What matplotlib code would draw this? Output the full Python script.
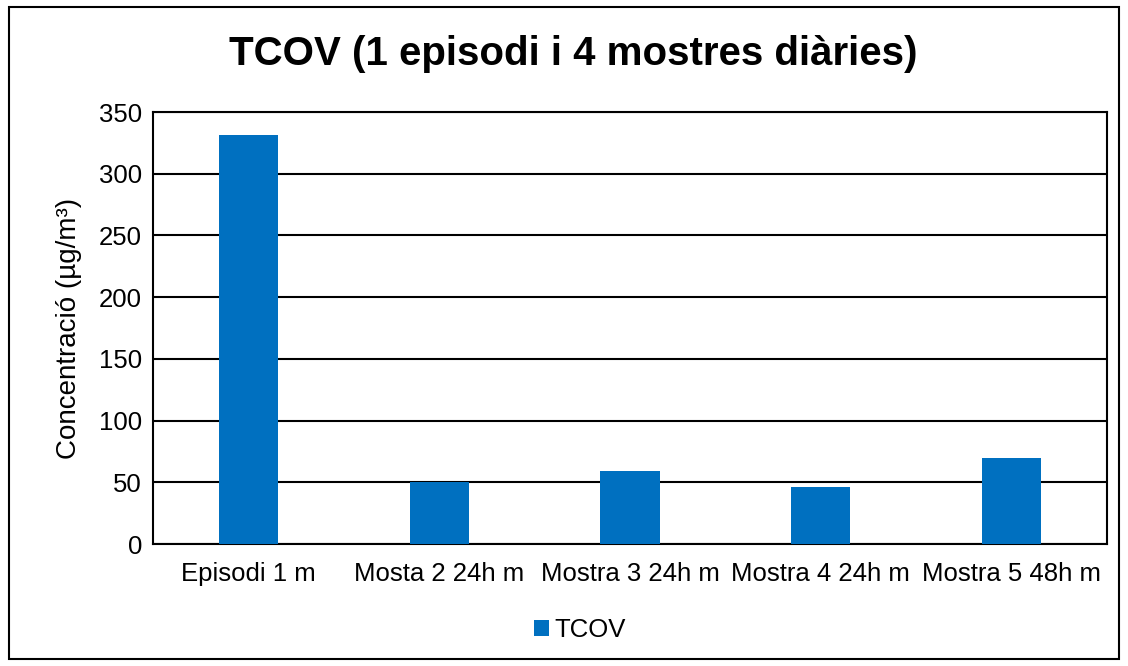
import numpy as np
import matplotlib.pyplot as plt
from matplotlib.patches import Rectangle

plt.rcParams['font.family'] = ['Liberation Sans', 'DejaVu Sans']

categories = ['Episodi 1 m', 'Mosta 2 24h m', 'Mostra 3 24h m', 'Mostra 4 24h m', 'Mostra 5 48h m']
tcov = [331, 50, 59, 46, 70]
yticks = [0, 50, 100, 150, 200, 250, 300, 350]

fig = plt.figure(figsize=(11.28, 6.66), dpi=100)
ax = fig.add_axes([153/1128, 1 - 544/666, (1107-153)/1128, (544-112)/666])

x = np.arange(len(categories))
ax.bar(x, tcov, width=0.31, color='#0070C0', label='TCOV', zorder=3)

ax.set_xlim(-0.5, len(categories) - 0.5)
ax.set_ylim(0, 350)
ax.set_yticks(yticks)
ax.set_xticks(x)
ax.set_xticklabels(categories, fontsize=18.5)
ax.tick_params(axis='y', labelsize=18.5, length=0, pad=8)
ax.tick_params(axis='x', length=0, pad=13)
ax.yaxis.grid(True, color='black', linewidth=1.5, zorder=0)
for s in ax.spines.values():
    s.set_linewidth(1.5)
    s.set_color('black')

ax.set_ylabel('Concentració (µg/m³)', fontsize=20, labelpad=12)
fig.text(573/1128, 1 - 54/666, 'TCOV (1 episodi i 4 mostres diàries)',
         ha='center', va='center', fontsize=29, fontweight='bold')

fig.legend(loc='center', bbox_to_anchor=(580/1128, 1 - 630/666), frameon=False,
           fontsize=18.5, handlelength=0.6, handleheight=0.6, handletextpad=0.2)

fig.patches.append(Rectangle((9/1128, 1 - 659/666), 1110/1128, 652/666,
                             transform=fig.transFigure, fill=False,
                             edgecolor='black', linewidth=1.5))

fig.savefig('out.png', dpi=100)
